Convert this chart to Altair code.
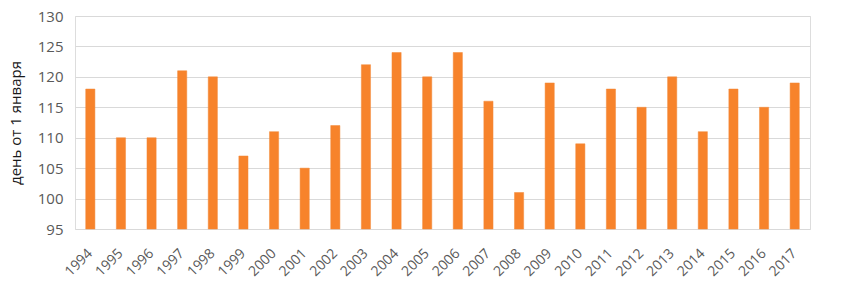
import altair as alt
import pandas as pd

years = [str(y) for y in range(1994, 2018)]
days = [118, 110, 110, 121, 120, 107, 111, 105, 112, 122, 124, 120, 124, 116,
        101, 119, 109, 118, 115, 120, 111, 118, 115, 119]
y_ticks = [95, 100, 105, 110, 115, 120, 125, 130]

df = pd.DataFrame({"year": years, "day": days})

chart = alt.Chart(df).mark_bar(color="#F7832B", stroke="#F28A3A", strokeWidth=0.5).encode(
    x=alt.X("year:N", sort=years,
            scale=alt.Scale(paddingInner=0.7, paddingOuter=0.35),
            axis=alt.Axis(title=None, labelAngle=-45, labelAlign="right",
                          labelBaseline="middle", labelPadding=22, ticks=False,
                          domain=False, labelFontSize=14, labelColor="#595959",
                          labelFont="Open Sans")),
    y=alt.Y("day:Q", scale=alt.Scale(domain=[95, 130], nice=False, zero=False, clamp=True),
            axis=alt.Axis(title="день от 1 января", values=y_ticks, ticks=False,
                          domain=False, grid=True, gridColor="#D9D9D9",
                          labelFontSize=15, labelColor="#595959", labelPadding=12,
                          labelFont="Open Sans", titleFont="Open Sans",
                          titleFontSize=15, titleFontWeight="normal",
                          titleColor="#1a1a1a", titlePadding=14)),
).properties(
    width=735, height=213,
    autosize=alt.AutoSizeParams(type="none"),
    padding={"left": 75, "top": 16, "right": 37, "bottom": 74},
).configure_view(strokeWidth=0, stroke="transparent").configure(background="white")

chart.save("out.html", embed_options={"renderer": "svg", "actions": False})
